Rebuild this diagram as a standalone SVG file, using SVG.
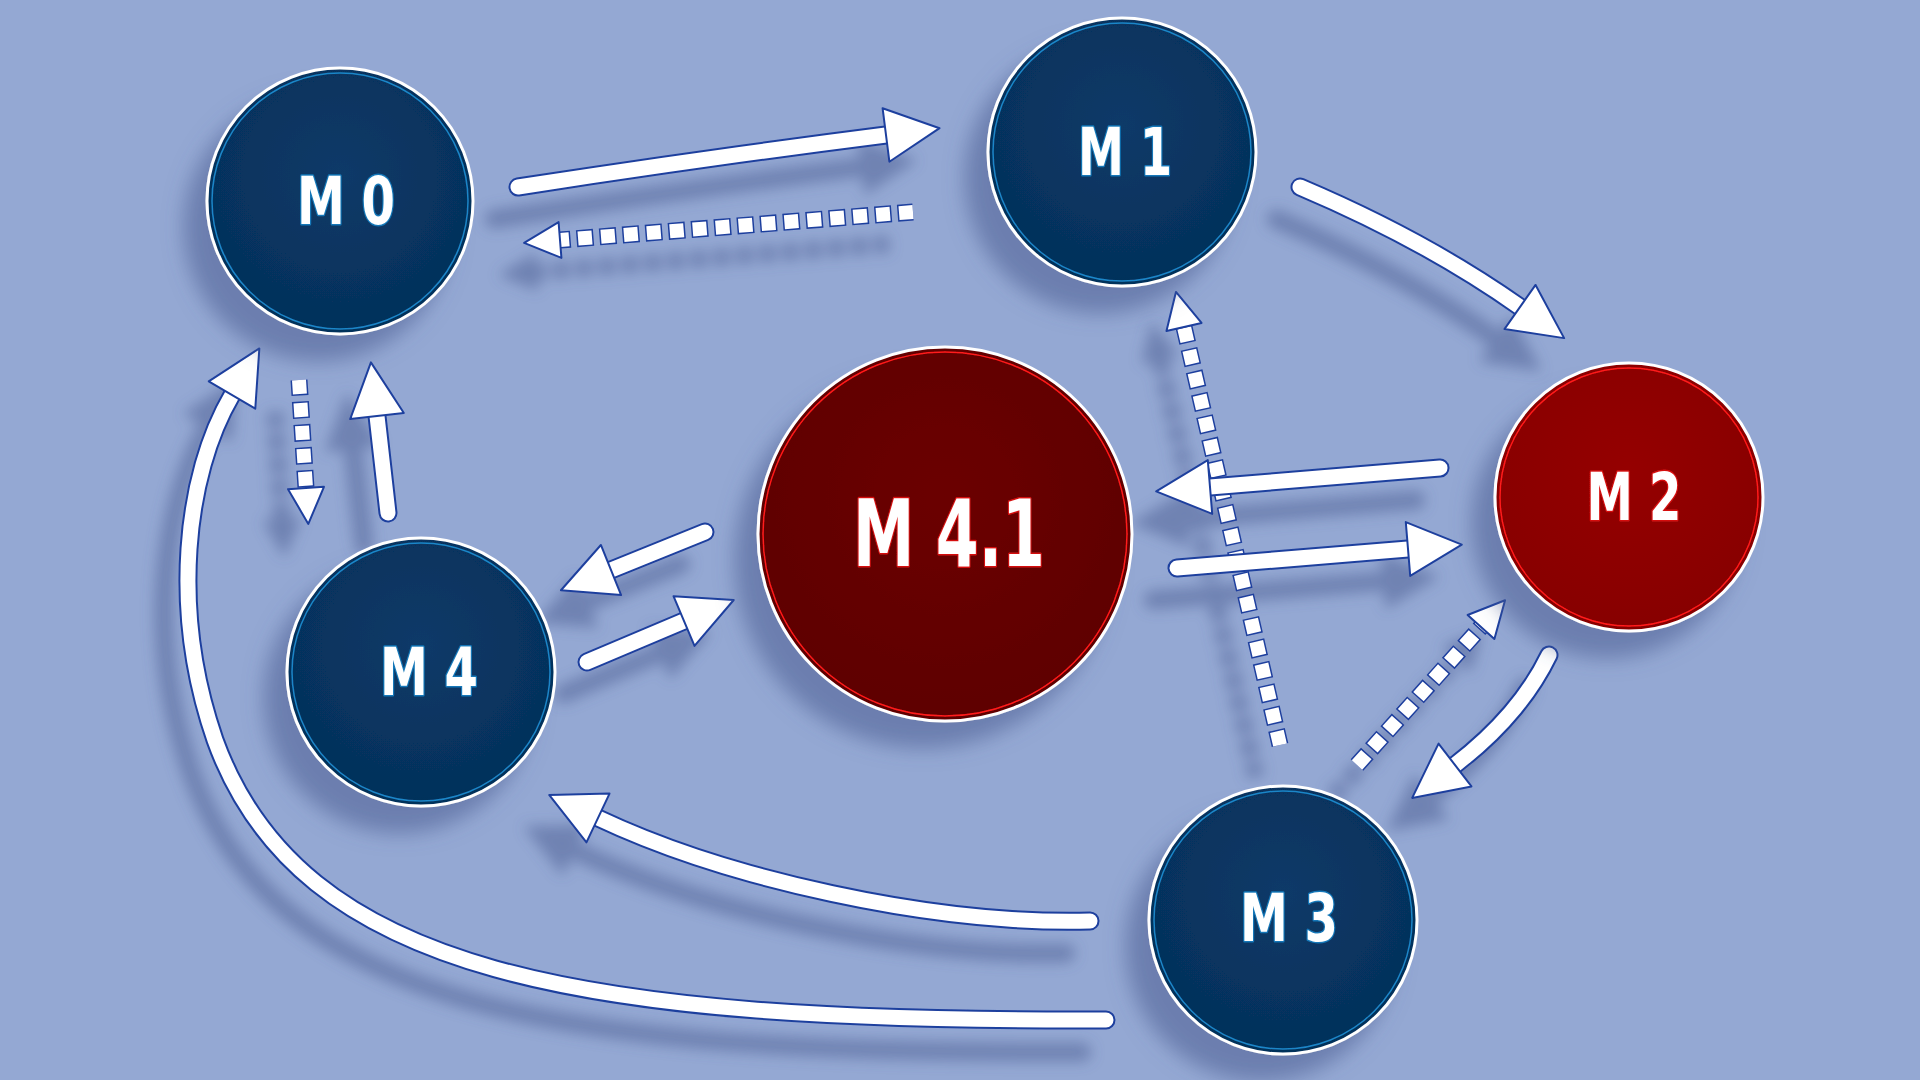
<svg xmlns="http://www.w3.org/2000/svg" width="1920" height="1080" viewBox="0 0 1920 1080">
<defs>
<style>
.bg{fill:#94a8d3}
.ring{stroke:#ffffff;stroke-width:3}
.inB{fill:none;stroke:#1b86c8;stroke-width:1.5}
.inR{fill:none;stroke:#ff1a1a;stroke-width:1.5}
.lbl{font-family:"DejaVu Sans Condensed","DejaVu Sans",sans-serif;font-weight:bold;fill:#ffffff;text-anchor:middle;dominant-baseline:central;paint-order:stroke;stroke-width:3;stroke-linejoin:round}
.lB{stroke:#1377b8}
.lR{stroke:#d51010}
.so{fill:none;stroke:#1f3f9e;stroke-width:19;stroke-linecap:round}
.sw{fill:none;stroke:#ffffff;stroke-width:15;stroke-linecap:round}
.do{fill:none;stroke:#1f3f9e;stroke-width:17;stroke-dasharray:17 6;stroke-dashoffset:1.5}
.dw{fill:none;stroke:#ffffff;stroke-width:14;stroke-dasharray:14 9}
</style>
<marker id="ah" markerUnits="userSpaceOnUse" markerWidth="60" markerHeight="60" viewBox="-2 -30 60 60" refX="0" refY="0" orient="auto" overflow="visible">
<path d="M0,-27 L54,0 L0,27 Z" fill="#ffffff" stroke="#1f3f9e" stroke-width="2" stroke-linejoin="round"/>
</marker>
<marker id="ahs" markerUnits="userSpaceOnUse" markerWidth="40" markerHeight="40" viewBox="-2 -20 40 40" refX="0" refY="0" orient="auto" overflow="visible">
<path d="M0,-18 L36,0 L0,18 Z" fill="#ffffff" stroke="#1f3f9e" stroke-width="2" stroke-linejoin="round"/>
</marker>
<radialGradient id="gB" cx="50%" cy="40%" r="60%">
<stop offset="0" stop-color="#0a3a68"/><stop offset="1" stop-color="#05305a"/>
</radialGradient>
<radialGradient id="gR2" cx="50%" cy="40%" r="60%">
<stop offset="0" stop-color="#950202"/><stop offset="1" stop-color="#870000"/>
</radialGradient>
<radialGradient id="gR41" cx="50%" cy="40%" r="60%">
<stop offset="0" stop-color="#6b0101"/><stop offset="1" stop-color="#5e0000"/>
</radialGradient>
<filter id="shC" filterUnits="userSpaceOnUse" x="0" y="0" width="1920" height="1080">
<feGaussianBlur in="SourceAlpha" stdDeviation="7"/>
<feOffset dx="-24" dy="32" result="b"/>
<feFlood flood-color="#4b5d92" flood-opacity="0.5"/>
<feComposite in2="b" operator="in"/>
<feMerge><feMergeNode/><feMergeNode in="SourceGraphic"/></feMerge>
</filter>
<filter id="shN" x="-40%" y="-40%" width="180%" height="180%">
<feGaussianBlur in="SourceAlpha" stdDeviation="10"/>
<feOffset dx="-22" dy="26" result="b"/>
<feFlood flood-color="#4b5d92" flood-opacity="0.55"/>
<feComposite in2="b" operator="in"/>
<feMerge><feMergeNode/><feMergeNode in="SourceGraphic"/></feMerge>
</filter>
</defs>
<rect class="bg" x="0" y="0" width="1920" height="1080"/>

<g id="connectors" filter="url(#shC)">
<!-- M0 -> M1 -->
<path class="so" d="M518,187 Q705,158 886,135"/>
<path class="sw" d="M518,187 Q705,158 886,135" marker-end="url(#ah)"/>
<!-- M1 -> M0 dotted -->
<path class="do" d="M913,212 L560,240"/>
<path class="dw" d="M913,212 L560,240" marker-end="url(#ahs)"/>
<!-- M1 -> M2 -->
<path class="so" d="M1300,187 Q1425,240 1520,307"/>
<path class="sw" d="M1300,187 Q1425,240 1520,307" marker-end="url(#ah)"/>
<!-- M0 -> M4 dotted -->
<path class="do" d="M299,380 L306,488"/>
<path class="dw" d="M299,380 L306,488" marker-end="url(#ahs)"/>
<!-- M4 -> M0 -->
<path class="so" d="M388,513 L377,416"/>
<path class="sw" d="M388,513 L377,416" marker-end="url(#ah)"/>
<!-- M3 -> M1 dotted -->
<path class="do" d="M1280,745 L1184,327"/>
<path class="dw" d="M1280,745 L1184,327" marker-end="url(#ahs)"/>
<!-- M2 -> M4.1 -->
<path class="so" d="M1440,468 L1210,487"/>
<path class="sw" d="M1440,468 L1210,487" marker-end="url(#ah)"/>
<!-- M4.1 -> M2 -->
<path class="so" d="M1177,568 L1408,549"/>
<path class="sw" d="M1177,568 L1408,549" marker-end="url(#ah)"/>
<!-- M4.1 -> M4 -->
<path class="so" d="M705,532 L611,570"/>
<path class="sw" d="M705,532 L611,570" marker-end="url(#ah)"/>
<!-- M4 -> M4.1 -->
<path class="so" d="M587,662 L684,621"/>
<path class="sw" d="M587,662 L684,621" marker-end="url(#ah)"/>
<!-- M2 -> M3 -->
<path class="so" d="M1549,655 Q1520,715 1455,765"/>
<path class="sw" d="M1549,655 Q1520,715 1455,765" marker-end="url(#ah)"/>
<!-- M3 -> M2 dotted -->
<path class="do" d="M1357,765 L1481,627"/>
<path class="dw" d="M1357,765 L1481,627" marker-end="url(#ahs)"/>
<!-- M3 -> M4 -->
<path class="so" d="M1090,921 C930,925 725,878 598,818"/>
<path class="sw" d="M1090,921 C930,925 725,878 598,818" marker-end="url(#ah)"/>
<!-- M3 -> M0 -->
<path class="so" d="M1106,1020 C580,1022 300,975 215,740 C170,610 185,475 232,395"/>
<path class="sw" d="M1106,1020 C580,1022 300,975 215,740 C170,610 185,475 232,395" marker-end="url(#ah)"/>
</g>

<g id="node-M0" filter="url(#shN)">
<circle class="ring" cx="340" cy="201" r="133" fill="url(#gB)"/>
<circle class="inB" cx="340" cy="201" r="128"/>
<text class="lbl lB" x="346" y="201" font-size="66" textLength="98" lengthAdjust="spacingAndGlyphs">M 0</text>
</g>
<g id="node-M1" filter="url(#shN)">
<circle class="ring" cx="1122" cy="152" r="134" fill="url(#gB)"/>
<circle class="inB" cx="1122" cy="152" r="129"/>
<text class="lbl lB" x="1125" y="152" font-size="66" textLength="94" lengthAdjust="spacingAndGlyphs">M 1</text>
</g>
<g id="node-M2" filter="url(#shN)">
<circle class="ring" cx="1629" cy="497" r="134" fill="url(#gR2)"/>
<circle class="inR" cx="1629" cy="497" r="129"/>
<text class="lbl lR" x="1634" y="497" font-size="66" textLength="95" lengthAdjust="spacingAndGlyphs">M 2</text>
</g>
<g id="node-M4.1" filter="url(#shN)">
<circle class="ring" cx="945" cy="534" r="187" fill="url(#gR41)"/>
<circle class="inR" cx="945" cy="534" r="182"/>
<text class="lbl lR" x="949" y="534" font-size="93" textLength="192" lengthAdjust="spacingAndGlyphs">M 4.1</text>
</g>
<g id="node-M4" filter="url(#shN)">
<circle class="ring" cx="421" cy="672" r="134" fill="url(#gB)"/>
<circle class="inB" cx="421" cy="672" r="129"/>
<text class="lbl lB" x="429" y="672" font-size="66" textLength="98" lengthAdjust="spacingAndGlyphs">M 4</text>
</g>
<g id="node-M3" filter="url(#shN)">
<circle class="ring" cx="1283" cy="920" r="134" fill="url(#gB)"/>
<circle class="inB" cx="1283" cy="920" r="129"/>
<text class="lbl lB" x="1289" y="918" font-size="66" textLength="98" lengthAdjust="spacingAndGlyphs">M 3</text>
</g>
</svg>
